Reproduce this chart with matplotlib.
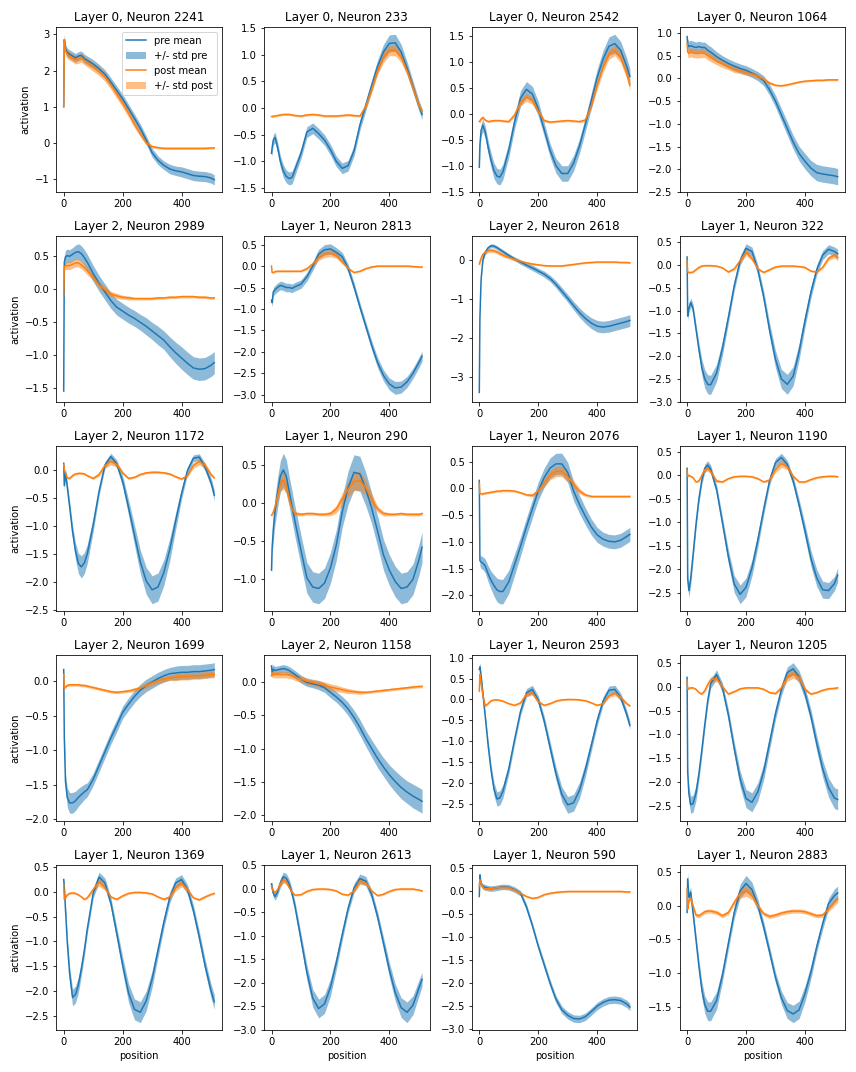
import matplotlib
matplotlib.use("Agg")
import matplotlib.pyplot as plt
import numpy as np

positions = [0, 2, 6, 12, 20, 30, 40, 50, 60, 70, 80, 100, 120, 140, 160, 180, 200,
             220, 240, 260, 280, 300, 320, 340, 360, 380, 400, 420, 440, 460, 480, 500, 511]

titles = ["Layer 0, Neuron 2241", "Layer 0, Neuron 233", "Layer 0, Neuron 2542", "Layer 0, Neuron 1064",
          "Layer 2, Neuron 2989", "Layer 1, Neuron 2813", "Layer 2, Neuron 2618", "Layer 1, Neuron 322",
          "Layer 2, Neuron 1172", "Layer 1, Neuron 290", "Layer 1, Neuron 2076", "Layer 1, Neuron 1190",
          "Layer 2, Neuron 1699", "Layer 2, Neuron 1158", "Layer 1, Neuron 2593", "Layer 1, Neuron 1205",
          "Layer 1, Neuron 1369", "Layer 1, Neuron 2613", "Layer 1, Neuron 590", "Layer 1, Neuron 2883"]

pre_mean = [
    [1.0, 2.85, 2.6, 2.5, 2.45, 2.4, 2.35, 2.4, 2.42, 2.33, 2.28, 2.18, 2.05, 1.9, 1.68, 1.45, 1.22, 0.95, 0.68, 0.4, 0.08, -0.27, -0.48, -0.62, -0.72, -0.77, -0.8, -0.85, -0.9, -0.92, -0.93, -0.97, -1.02],
    [-0.85, -0.75, -0.6, -0.55, -0.72, -1.0, -1.18, -1.28, -1.32, -1.3, -1.15, -0.85, -0.45, -0.38, -0.48, -0.6, -0.78, -1.0, -1.13, -1.08, -0.8, -0.32, 0.05, 0.42, 0.78, 1.05, 1.21, 1.22, 1.05, 0.75, 0.4, 0.05, -0.12],
    [-1.03, -0.6, -0.32, -0.22, -0.35, -0.65, -0.9, -1.1, -1.2, -1.22, -1.12, -0.7, -0.15, 0.3, 0.47, 0.38, 0.1, -0.3, -0.7, -1.0, -1.15, -1.15, -0.95, -0.62, -0.2, 0.25, 0.7, 1.05, 1.3, 1.35, 1.22, 0.92, 0.72],
    [0.92, 0.75, 0.7, 0.72, 0.7, 0.68, 0.7, 0.68, 0.68, 0.62, 0.58, 0.48, 0.4, 0.33, 0.27, 0.22, 0.18, 0.12, 0.05, -0.05, -0.25, -0.5, -0.8, -1.1, -1.4, -1.65, -1.82, -1.97, -2.07, -2.1, -2.12, -2.14, -2.16],
    [-1.55, 0.4, 0.48, 0.5, 0.49, 0.52, 0.55, 0.56, 0.53, 0.47, 0.4, 0.23, 0.08, -0.05, -0.18, -0.28, -0.34, -0.4, -0.45, -0.51, -0.57, -0.64, -0.71, -0.78, -0.88, -0.97, -1.05, -1.13, -1.2, -1.22, -1.21, -1.16, -1.12],
    [-0.8, -0.85, -0.6, -0.55, -0.5, -0.45, -0.47, -0.5, -0.5, -0.52, -0.48, -0.42, -0.25, 0.0, 0.28, 0.38, 0.4, 0.32, 0.22, -0.05, -0.48, -0.95, -1.4, -1.85, -2.25, -2.55, -2.75, -2.84, -2.82, -2.7, -2.5, -2.25, -2.1],
    [-3.4, -1.5, -0.5, 0.0, 0.2, 0.32, 0.37, 0.36, 0.32, 0.27, 0.22, 0.12, 0.03, -0.05, -0.13, -0.2, -0.28, -0.36, -0.47, -0.62, -0.8, -0.98, -1.17, -1.35, -1.5, -1.62, -1.7, -1.72, -1.7, -1.66, -1.62, -1.58, -1.55],
    [0.18, -1.12, -0.95, -0.82, -0.95, -1.4, -1.85, -2.25, -2.5, -2.62, -2.63, -2.37, -1.82, -1.15, -0.45, 0.1, 0.37, 0.3, -0.1, -0.7, -1.43, -2.07, -2.5, -2.62, -2.44, -1.9, -1.22, -0.6, -0.1, 0.22, 0.35, 0.3, 0.25],
    [0.12, -0.28, -0.05, -0.3, -0.65, -1.1, -1.45, -1.67, -1.73, -1.66, -1.5, -0.98, -0.38, 0.09, 0.24, 0.11, -0.2, -0.67, -1.16, -1.64, -1.98, -2.14, -2.09, -1.83, -1.42, -0.91, -0.42, -0.01, 0.21, 0.23, 0.05, -0.22, -0.45],
    [-0.88, -0.6, -0.35, -0.1, 0.12, 0.35, 0.43, 0.35, 0.15, -0.05, -0.25, -0.62, -0.98, -1.1, -1.12, -1.05, -0.85, -0.55, -0.12, 0.2, 0.4, 0.38, 0.18, -0.07, -0.37, -0.68, -0.88, -1.03, -1.12, -1.1, -1.0, -0.75, -0.58],
    [0.15, -1.35, -1.38, -1.4, -1.45, -1.6, -1.72, -1.82, -1.9, -1.93, -1.93, -1.75, -1.42, -1.08, -0.72, -0.38, -0.05, 0.2, 0.38, 0.46, 0.46, 0.3, -0.05, -0.3, -0.52, -0.72, -0.87, -0.95, -0.99, -1.0, -0.97, -0.9, -0.86],
    [0.15, -2.2, -2.45, -2.2, -1.7, -1.05, -0.5, -0.1, 0.15, 0.22, 0.13, -0.3, -1.01, -1.73, -2.31, -2.53, -2.38, -1.97, -1.38, -0.72, -0.11, 0.27, 0.38, 0.23, -0.12, -0.63, -1.18, -1.76, -2.18, -2.43, -2.45, -2.3, -2.12],
    [0.17, -0.8, -1.45, -1.68, -1.76, -1.76, -1.73, -1.68, -1.64, -1.6, -1.57, -1.42, -1.22, -1.02, -0.82, -0.64, -0.45, -0.33, -0.22, -0.13, -0.06, -0.01, 0.04, 0.08, 0.11, 0.12, 0.13, 0.13, 0.14, 0.14, 0.15, 0.16, 0.17],
    [0.25, 0.15, 0.2, 0.18, 0.19, 0.2, 0.21, 0.2, 0.18, 0.15, 0.12, 0.05, 0.0, -0.02, -0.04, -0.08, -0.15, -0.22, -0.3, -0.4, -0.53, -0.68, -0.85, -1.0, -1.15, -1.28, -1.4, -1.5, -1.59, -1.66, -1.72, -1.77, -1.8],
    [0.72, 0.78, 0.55, 0.15, -0.4, -1.1, -1.7, -2.15, -2.38, -2.35, -2.2, -1.66, -0.95, -0.28, 0.16, 0.24, -0.01, -0.51, -1.14, -1.77, -2.27, -2.52, -2.47, -2.17, -1.68, -1.1, -0.51, -0.04, 0.22, 0.24, 0.05, -0.35, -0.62],
    [0.2, -1.8, -2.25, -2.48, -2.46, -2.24, -1.83, -1.33, -0.79, -0.29, 0.07, 0.26, -0.02, -0.59, -1.3, -1.94, -2.35, -2.43, -2.21, -1.78, -1.17, -0.56, -0.06, 0.3, 0.38, 0.21, -0.13, -0.61, -1.19, -1.72, -2.12, -2.34, -2.37],
    [0.25, 0.1, -0.35, -1.0, -1.65, -2.13, -2.07, -1.87, -1.55, -1.18, -0.75, -0.03, 0.3, 0.18, -0.22, -0.84, -1.47, -2.04, -2.37, -2.43, -2.2, -1.76, -1.18, -0.61, -0.11, 0.18, 0.25, 0.05, -0.37, -0.91, -1.49, -2.0, -2.22],
    [0.1, 0.02, -0.1, -0.17, -0.08, 0.12, 0.25, 0.22, 0.1, -0.11, -0.39, -1.08, -1.78, -2.33, -2.55, -2.45, -2.1, -1.57, -0.98, -0.42, 0.01, 0.21, 0.16, -0.13, -0.6, -1.16, -1.73, -2.21, -2.53, -2.63, -2.48, -2.12, -1.93],
    [-0.12, 0.35, 0.15, 0.1, 0.08, 0.06, 0.05, 0.06, 0.07, 0.08, 0.09, 0.08, 0.03, -0.05, -0.35, -0.75, -1.2, -1.6, -2.0, -2.35, -2.58, -2.7, -2.77, -2.78, -2.73, -2.62, -2.5, -2.42, -2.37, -2.36, -2.38, -2.45, -2.52],
    [-0.1, 0.4, 0.12, 0.2, -0.1, -0.5, -0.9, -1.25, -1.47, -1.57, -1.57, -1.41, -1.03, -0.56, -0.1, 0.22, 0.33, 0.24, 0.01, -0.32, -0.69, -1.07, -1.37, -1.56, -1.61, -1.55, -1.31, -0.99, -0.61, -0.27, 0.03, 0.15, 0.19],
]

pre_std = [
    [0.05, 0.15, 0.13, 0.12, 0.12, 0.12, 0.12, 0.12, 0.12, 0.12, 0.12, 0.12, 0.12, 0.12, 0.12, 0.12, 0.12, 0.12, 0.12, 0.12, 0.12, 0.12, 0.12, 0.12, 0.13, 0.13, 0.14, 0.14, 0.14, 0.14, 0.14, 0.14, 0.14],
    [0.05, 0.1, 0.1, 0.1, 0.1, 0.11, 0.12, 0.12, 0.12, 0.12, 0.11, 0.1, 0.1, 0.1, 0.1, 0.1, 0.1, 0.1, 0.1, 0.1, 0.1, 0.1, 0.1, 0.11, 0.12, 0.14, 0.16, 0.16, 0.14, 0.12, 0.11, 0.1, 0.1],
    [0.05, 0.12, 0.12, 0.12, 0.12, 0.13, 0.14, 0.15, 0.15, 0.15, 0.15, 0.14, 0.14, 0.15, 0.15, 0.15, 0.14, 0.13, 0.13, 0.14, 0.15, 0.15, 0.15, 0.14, 0.14, 0.15, 0.16, 0.17, 0.18, 0.18, 0.17, 0.16, 0.15],
    [0.05, 0.12, 0.12, 0.12, 0.12, 0.12, 0.12, 0.12, 0.12, 0.12, 0.12, 0.11, 0.1, 0.1, 0.1, 0.1, 0.1, 0.1, 0.1, 0.11, 0.12, 0.13, 0.14, 0.15, 0.15, 0.16, 0.17, 0.17, 0.18, 0.18, 0.18, 0.18, 0.18],
    [0.05, 0.1, 0.1, 0.1, 0.1, 0.1, 0.11, 0.12, 0.12, 0.12, 0.12, 0.12, 0.12, 0.12, 0.12, 0.12, 0.12, 0.12, 0.12, 0.12, 0.13, 0.13, 0.14, 0.14, 0.15, 0.16, 0.17, 0.17, 0.17, 0.17, 0.17, 0.17, 0.17],
    [0.05, 0.1, 0.1, 0.1, 0.1, 0.1, 0.1, 0.1, 0.1, 0.1, 0.1, 0.1, 0.1, 0.1, 0.11, 0.12, 0.12, 0.11, 0.1, 0.1, 0.1, 0.1, 0.1, 0.11, 0.12, 0.13, 0.14, 0.15, 0.14, 0.13, 0.12, 0.12, 0.12],
    [0.05, 0.05, 0.05, 0.05, 0.05, 0.05, 0.05, 0.05, 0.05, 0.05, 0.05, 0.05, 0.05, 0.06, 0.06, 0.07, 0.07, 0.08, 0.08, 0.09, 0.1, 0.1, 0.11, 0.12, 0.13, 0.14, 0.15, 0.15, 0.15, 0.15, 0.15, 0.15, 0.15],
    [0.05, 0.1, 0.1, 0.1, 0.1, 0.12, 0.15, 0.18, 0.2, 0.21, 0.21, 0.19, 0.16, 0.13, 0.11, 0.1, 0.1, 0.1, 0.11, 0.13, 0.16, 0.19, 0.21, 0.22, 0.21, 0.18, 0.15, 0.13, 0.11, 0.1, 0.1, 0.1, 0.1],
    [0.05, 0.08, 0.08, 0.08, 0.1, 0.12, 0.15, 0.18, 0.2, 0.19, 0.17, 0.12, 0.08, 0.06, 0.06, 0.07, 0.1, 0.14, 0.18, 0.21, 0.24, 0.25, 0.25, 0.23, 0.2, 0.15, 0.1, 0.07, 0.06, 0.06, 0.07, 0.08, 0.1],
    [0.05, 0.1, 0.15, 0.18, 0.2, 0.2, 0.22, 0.22, 0.2, 0.2, 0.2, 0.2, 0.2, 0.2, 0.2, 0.2, 0.2, 0.2, 0.2, 0.22, 0.23, 0.23, 0.22, 0.2, 0.2, 0.2, 0.2, 0.2, 0.2, 0.2, 0.2, 0.2, 0.2],
    [0.05, 0.1, 0.12, 0.12, 0.13, 0.15, 0.17, 0.2, 0.22, 0.23, 0.23, 0.22, 0.2, 0.18, 0.17, 0.17, 0.17, 0.18, 0.19, 0.2, 0.2, 0.19, 0.18, 0.17, 0.16, 0.15, 0.14, 0.13, 0.13, 0.13, 0.13, 0.13, 0.13],
    [0.05, 0.15, 0.15, 0.15, 0.13, 0.11, 0.1, 0.09, 0.09, 0.09, 0.09, 0.1, 0.12, 0.15, 0.18, 0.2, 0.2, 0.17, 0.15, 0.12, 0.1, 0.09, 0.09, 0.09, 0.1, 0.12, 0.15, 0.17, 0.18, 0.18, 0.17, 0.15, 0.15],
    [0.05, 0.1, 0.12, 0.14, 0.15, 0.15, 0.14, 0.13, 0.12, 0.11, 0.1, 0.09, 0.09, 0.09, 0.09, 0.09, 0.09, 0.09, 0.09, 0.09, 0.09, 0.09, 0.09, 0.09, 0.09, 0.1, 0.1, 0.1, 0.1, 0.1, 0.1, 0.1, 0.1],
    [0.05, 0.08, 0.07, 0.06, 0.06, 0.06, 0.06, 0.06, 0.06, 0.06, 0.06, 0.06, 0.06, 0.06, 0.07, 0.07, 0.08, 0.08, 0.09, 0.1, 0.11, 0.12, 0.12, 0.13, 0.14, 0.14, 0.15, 0.16, 0.17, 0.17, 0.18, 0.18, 0.18],
    [0.1, 0.1, 0.1, 0.1, 0.1, 0.12, 0.14, 0.16, 0.17, 0.17, 0.16, 0.13, 0.11, 0.1, 0.1, 0.1, 0.1, 0.12, 0.14, 0.16, 0.18, 0.2, 0.2, 0.19, 0.17, 0.14, 0.12, 0.1, 0.1, 0.1, 0.1, 0.1, 0.1],
    [0.05, 0.15, 0.17, 0.18, 0.18, 0.16, 0.14, 0.12, 0.11, 0.1, 0.1, 0.1, 0.1, 0.12, 0.14, 0.17, 0.19, 0.2, 0.19, 0.17, 0.15, 0.13, 0.12, 0.12, 0.13, 0.13, 0.13, 0.14, 0.16, 0.18, 0.2, 0.22, 0.22],
    [0.05, 0.08, 0.1, 0.12, 0.15, 0.17, 0.17, 0.16, 0.14, 0.12, 0.1, 0.1, 0.1, 0.1, 0.11, 0.13, 0.16, 0.19, 0.21, 0.21, 0.2, 0.17, 0.14, 0.12, 0.11, 0.1, 0.1, 0.1, 0.11, 0.12, 0.13, 0.14, 0.15],
    [0.05, 0.08, 0.08, 0.08, 0.08, 0.1, 0.1, 0.1, 0.1, 0.1, 0.11, 0.13, 0.16, 0.19, 0.2, 0.2, 0.18, 0.15, 0.12, 0.1, 0.1, 0.1, 0.1, 0.1, 0.11, 0.13, 0.16, 0.18, 0.21, 0.22, 0.2, 0.17, 0.15],
    [0.05, 0.06, 0.06, 0.06, 0.06, 0.06, 0.06, 0.06, 0.06, 0.06, 0.06, 0.06, 0.06, 0.06, 0.07, 0.07, 0.07, 0.08, 0.08, 0.08, 0.08, 0.08, 0.08, 0.08, 0.08, 0.08, 0.08, 0.08, 0.08, 0.08, 0.08, 0.08, 0.08],
    [0.05, 0.1, 0.08, 0.08, 0.08, 0.08, 0.1, 0.12, 0.13, 0.14, 0.14, 0.13, 0.1, 0.09, 0.09, 0.1, 0.12, 0.11, 0.09, 0.08, 0.08, 0.08, 0.1, 0.12, 0.13, 0.13, 0.12, 0.1, 0.08, 0.08, 0.08, 0.1, 0.1],
]

post_mean = [
    [1.0, 2.85, 2.55, 2.45, 2.4, 2.35, 2.3, 2.32, 2.35, 2.28, 2.22, 2.1, 1.98, 1.82, 1.6, 1.35, 1.1, 0.82, 0.52, 0.25, 0.0, -0.1, -0.13, -0.15, -0.15, -0.15, -0.15, -0.15, -0.15, -0.15, -0.15, -0.14, -0.14],
    [-0.16, -0.16, -0.15, -0.15, -0.14, -0.13, -0.12, -0.12, -0.12, -0.13, -0.14, -0.15, -0.13, -0.12, -0.13, -0.15, -0.15, -0.15, -0.14, -0.13, -0.14, -0.15, 0.03, 0.35, 0.7, 0.95, 1.08, 1.08, 0.95, 0.7, 0.38, 0.05, -0.06],
    [-0.15, -0.14, -0.1, -0.07, -0.12, -0.15, -0.14, -0.13, -0.13, -0.13, -0.14, -0.15, -0.02, 0.22, 0.32, 0.25, 0.05, -0.13, -0.16, -0.15, -0.14, -0.13, -0.14, -0.15, -0.12, 0.15, 0.55, 0.9, 1.15, 1.22, 1.08, 0.78, 0.55],
    [0.78, 0.58, 0.55, 0.58, 0.56, 0.55, 0.55, 0.56, 0.55, 0.5, 0.46, 0.38, 0.32, 0.26, 0.2, 0.17, 0.13, 0.1, 0.05, -0.02, -0.1, -0.15, -0.16, -0.14, -0.11, -0.08, -0.06, -0.05, -0.04, -0.04, -0.03, -0.03, -0.03],
    [-0.1, 0.33, 0.35, 0.35, 0.35, 0.37, 0.39, 0.39, 0.36, 0.32, 0.27, 0.17, 0.06, -0.02, -0.08, -0.11, -0.13, -0.14, -0.15, -0.15, -0.15, -0.15, -0.14, -0.14, -0.13, -0.13, -0.12, -0.12, -0.12, -0.13, -0.13, -0.14, -0.14],
    [0.0, -0.15, -0.15, -0.13, -0.12, -0.12, -0.12, -0.12, -0.12, -0.12, -0.12, -0.12, -0.06, 0.05, 0.2, 0.28, 0.3, 0.25, 0.1, -0.05, -0.15, -0.12, -0.06, -0.02, 0.0, 0.0, 0.0, 0.0, 0.0, 0.0, -0.01, -0.02, -0.02],
    [-0.1, -0.05, 0.05, 0.15, 0.2, 0.24, 0.25, 0.24, 0.21, 0.17, 0.13, 0.07, 0.02, -0.03, -0.07, -0.1, -0.12, -0.14, -0.15, -0.15, -0.15, -0.13, -0.11, -0.09, -0.07, -0.06, -0.05, -0.05, -0.05, -0.05, -0.06, -0.06, -0.07],
    [0.1, -0.15, -0.16, -0.16, -0.15, -0.1, -0.05, -0.02, -0.01, -0.01, -0.01, -0.02, -0.06, -0.15, -0.08, 0.1, 0.28, 0.15, -0.08, -0.16, -0.1, -0.04, -0.02, -0.02, -0.02, -0.03, -0.05, -0.13, -0.15, -0.05, 0.15, 0.22, 0.16],
    [0.1, 0.0, -0.05, -0.14, -0.15, -0.1, -0.07, -0.06, -0.06, -0.07, -0.1, -0.15, -0.08, 0.08, 0.15, 0.1, -0.05, -0.15, -0.13, -0.08, -0.05, -0.04, -0.04, -0.05, -0.07, -0.12, -0.16, -0.1, 0.08, 0.15, 0.08, -0.08, -0.14],
    [-0.16, -0.15, -0.12, -0.05, 0.08, 0.25, 0.3, 0.22, 0.05, -0.08, -0.14, -0.15, -0.14, -0.14, -0.15, -0.15, -0.14, -0.08, 0.05, 0.18, 0.28, 0.29, 0.2, 0.05, -0.08, -0.14, -0.15, -0.15, -0.14, -0.15, -0.15, -0.15, -0.14],
    [0.1, -0.1, -0.1, -0.1, -0.09, -0.08, -0.07, -0.06, -0.05, -0.05, -0.04, -0.04, -0.05, -0.08, -0.12, -0.13, -0.05, 0.1, 0.25, 0.32, 0.32, 0.22, 0.08, -0.05, -0.12, -0.15, -0.15, -0.15, -0.15, -0.15, -0.15, -0.15, -0.15],
    [0.1, -0.02, 0.0, -0.02, -0.05, -0.14, -0.12, 0.0, 0.12, 0.15, 0.08, -0.12, -0.14, -0.07, -0.03, -0.02, -0.02, -0.03, -0.07, -0.14, -0.1, 0.12, 0.25, 0.18, -0.02, -0.14, -0.14, -0.09, -0.05, -0.03, -0.02, -0.02, -0.03],
    [0.1, -0.1, -0.08, -0.06, -0.05, -0.05, -0.05, -0.05, -0.06, -0.06, -0.07, -0.09, -0.11, -0.13, -0.15, -0.16, -0.15, -0.14, -0.12, -0.1, -0.06, -0.02, 0.01, 0.03, 0.05, 0.06, 0.07, 0.07, 0.08, 0.08, 0.09, 0.1, 0.1],
    [0.1, 0.15, 0.12, 0.12, 0.12, 0.12, 0.12, 0.12, 0.11, 0.1, 0.08, 0.05, 0.02, 0.0, -0.02, -0.04, -0.07, -0.09, -0.11, -0.13, -0.14, -0.15, -0.15, -0.14, -0.13, -0.12, -0.11, -0.1, -0.09, -0.08, -0.07, -0.06, -0.06],
    [0.2, 0.6, 0.4, 0.1, -0.15, -0.1, -0.03, -0.01, -0.01, -0.02, -0.04, -0.1, -0.14, -0.08, 0.12, 0.16, -0.05, -0.14, -0.1, -0.04, -0.01, 0.0, 0.0, -0.01, -0.03, -0.08, -0.14, -0.1, 0.08, 0.15, 0.05, -0.1, -0.15],
    [0.15, -0.05, -0.03, -0.02, -0.02, -0.05, -0.12, -0.15, -0.08, 0.05, 0.15, 0.18, 0.0, -0.15, -0.1, -0.04, -0.02, -0.02, -0.02, -0.05, -0.12, -0.14, -0.02, 0.2, 0.28, 0.2, -0.05, -0.15, -0.12, -0.07, -0.04, -0.03, -0.02],
    [0.15, -0.15, -0.12, -0.06, -0.03, -0.02, -0.03, -0.06, -0.1, -0.15, -0.12, 0.05, 0.2, 0.08, -0.1, -0.15, -0.08, -0.03, -0.01, -0.01, -0.02, -0.04, -0.1, -0.15, -0.1, 0.08, 0.18, 0.05, -0.12, -0.16, -0.1, -0.05, -0.03],
    [0.05, 0.0, -0.05, -0.08, -0.03, 0.1, 0.18, 0.14, 0.02, -0.08, -0.14, -0.13, -0.06, -0.02, -0.01, -0.01, -0.02, -0.05, -0.12, -0.14, -0.05, 0.16, 0.12, -0.05, -0.15, -0.12, -0.06, -0.02, -0.01, -0.01, -0.01, -0.03, -0.05],
    [0.1, 0.25, 0.15, 0.08, 0.05, 0.05, 0.05, 0.06, 0.07, 0.08, 0.08, 0.07, 0.02, -0.05, -0.12, -0.16, -0.14, -0.08, -0.05, -0.03, -0.02, -0.01, -0.01, -0.01, -0.01, -0.01, -0.01, -0.01, -0.01, -0.01, -0.01, -0.02, -0.02],
    [0.25, -0.05, 0.08, 0.12, 0.0, -0.14, -0.15, -0.12, -0.09, -0.08, -0.08, -0.1, -0.15, -0.1, 0.05, 0.18, 0.22, 0.15, 0.0, -0.12, -0.16, -0.14, -0.11, -0.09, -0.08, -0.08, -0.09, -0.12, -0.15, -0.14, -0.05, 0.05, 0.1],
]

post_std = [
    [0.05, 0.15, 0.13, 0.12, 0.12, 0.12, 0.12, 0.12, 0.12, 0.12, 0.12, 0.12, 0.12, 0.12, 0.12, 0.12, 0.12, 0.11, 0.1, 0.08, 0.06, 0.04, 0.03, 0.03, 0.03, 0.03, 0.03, 0.03, 0.03, 0.03, 0.03, 0.03, 0.03],
    [0.02, 0.02, 0.02, 0.02, 0.02, 0.02, 0.02, 0.02, 0.02, 0.02, 0.02, 0.02, 0.02, 0.02, 0.02, 0.02, 0.02, 0.02, 0.02, 0.02, 0.02, 0.02, 0.04, 0.06, 0.08, 0.1, 0.1, 0.1, 0.1, 0.09, 0.08, 0.06, 0.05],
    [0.03, 0.03, 0.03, 0.03, 0.02, 0.02, 0.02, 0.02, 0.02, 0.02, 0.02, 0.02, 0.04, 0.07, 0.08, 0.07, 0.05, 0.03, 0.02, 0.02, 0.02, 0.02, 0.02, 0.02, 0.03, 0.05, 0.08, 0.1, 0.1, 0.1, 0.1, 0.1, 0.1],
    [0.1, 0.1, 0.1, 0.1, 0.1, 0.1, 0.1, 0.1, 0.09, 0.09, 0.09, 0.08, 0.08, 0.07, 0.07, 0.06, 0.06, 0.05, 0.05, 0.04, 0.03, 0.02, 0.02, 0.02, 0.02, 0.02, 0.02, 0.02, 0.02, 0.02, 0.02, 0.02, 0.02],
    [0.02, 0.06, 0.06, 0.06, 0.06, 0.06, 0.06, 0.06, 0.06, 0.06, 0.06, 0.05, 0.05, 0.05, 0.04, 0.04, 0.03, 0.03, 0.02, 0.02, 0.02, 0.02, 0.02, 0.02, 0.02, 0.02, 0.02, 0.02, 0.02, 0.02, 0.02, 0.02, 0.02],
    [0.02, 0.02, 0.02, 0.02, 0.02, 0.02, 0.02, 0.02, 0.02, 0.02, 0.02, 0.02, 0.03, 0.05, 0.07, 0.08, 0.08, 0.07, 0.05, 0.03, 0.02, 0.02, 0.02, 0.02, 0.02, 0.02, 0.02, 0.02, 0.02, 0.02, 0.02, 0.02, 0.02],
    [0.05, 0.05, 0.05, 0.05, 0.05, 0.05, 0.05, 0.05, 0.05, 0.05, 0.05, 0.04, 0.04, 0.03, 0.03, 0.03, 0.02, 0.02, 0.02, 0.02, 0.02, 0.02, 0.02, 0.02, 0.02, 0.02, 0.02, 0.02, 0.02, 0.02, 0.02, 0.02, 0.02],
    [0.02, 0.02, 0.02, 0.02, 0.02, 0.02, 0.02, 0.02, 0.02, 0.02, 0.02, 0.02, 0.02, 0.02, 0.03, 0.05, 0.07, 0.05, 0.03, 0.02, 0.02, 0.02, 0.02, 0.02, 0.02, 0.02, 0.02, 0.02, 0.02, 0.03, 0.05, 0.06, 0.06],
    [0.02, 0.02, 0.02, 0.02, 0.02, 0.02, 0.02, 0.02, 0.02, 0.02, 0.02, 0.02, 0.03, 0.05, 0.06, 0.05, 0.03, 0.02, 0.02, 0.02, 0.02, 0.02, 0.02, 0.02, 0.02, 0.02, 0.02, 0.03, 0.05, 0.06, 0.05, 0.03, 0.02],
    [0.02, 0.02, 0.03, 0.05, 0.08, 0.1, 0.12, 0.1, 0.07, 0.04, 0.03, 0.02, 0.02, 0.02, 0.02, 0.02, 0.03, 0.05, 0.08, 0.1, 0.12, 0.12, 0.1, 0.07, 0.04, 0.03, 0.02, 0.02, 0.02, 0.02, 0.02, 0.02, 0.02],
    [0.02, 0.02, 0.02, 0.02, 0.02, 0.02, 0.02, 0.02, 0.02, 0.02, 0.02, 0.02, 0.02, 0.02, 0.02, 0.03, 0.05, 0.07, 0.09, 0.1, 0.1, 0.09, 0.07, 0.05, 0.03, 0.02, 0.02, 0.02, 0.02, 0.02, 0.02, 0.02, 0.02],
    [0.02, 0.02, 0.02, 0.02, 0.02, 0.02, 0.02, 0.03, 0.05, 0.06, 0.05, 0.03, 0.02, 0.02, 0.02, 0.02, 0.02, 0.02, 0.02, 0.02, 0.03, 0.06, 0.08, 0.06, 0.03, 0.02, 0.02, 0.02, 0.02, 0.02, 0.02, 0.02, 0.02],
    [0.02, 0.02, 0.02, 0.02, 0.02, 0.02, 0.02, 0.02, 0.02, 0.02, 0.02, 0.02, 0.02, 0.02, 0.02, 0.02, 0.02, 0.02, 0.03, 0.03, 0.04, 0.04, 0.04, 0.04, 0.04, 0.05, 0.05, 0.05, 0.05, 0.05, 0.05, 0.05, 0.05],
    [0.03, 0.05, 0.05, 0.05, 0.05, 0.05, 0.05, 0.05, 0.05, 0.05, 0.05, 0.05, 0.05, 0.05, 0.05, 0.05, 0.05, 0.05, 0.04, 0.04, 0.03, 0.03, 0.02, 0.02, 0.02, 0.02, 0.02, 0.02, 0.02, 0.02, 0.02, 0.02, 0.02],
    [0.1, 0.15, 0.12, 0.06, 0.03, 0.02, 0.02, 0.02, 0.02, 0.02, 0.02, 0.02, 0.02, 0.03, 0.05, 0.06, 0.04, 0.02, 0.02, 0.02, 0.02, 0.02, 0.02, 0.02, 0.02, 0.02, 0.02, 0.02, 0.04, 0.06, 0.05, 0.03, 0.02],
    [0.02, 0.02, 0.02, 0.02, 0.02, 0.02, 0.02, 0.02, 0.03, 0.05, 0.07, 0.07, 0.04, 0.02, 0.02, 0.02, 0.02, 0.02, 0.02, 0.02, 0.02, 0.02, 0.04, 0.08, 0.1, 0.08, 0.04, 0.02, 0.02, 0.02, 0.02, 0.02, 0.02],
    [0.02, 0.02, 0.02, 0.02, 0.02, 0.02, 0.02, 0.02, 0.02, 0.02, 0.02, 0.05, 0.08, 0.05, 0.02, 0.02, 0.02, 0.02, 0.02, 0.02, 0.02, 0.02, 0.02, 0.02, 0.03, 0.06, 0.08, 0.05, 0.02, 0.02, 0.02, 0.02, 0.02],
    [0.02, 0.02, 0.02, 0.02, 0.03, 0.05, 0.07, 0.05, 0.03, 0.02, 0.02, 0.02, 0.02, 0.02, 0.02, 0.02, 0.02, 0.02, 0.02, 0.02, 0.03, 0.07, 0.05, 0.02, 0.02, 0.02, 0.02, 0.02, 0.02, 0.02, 0.02, 0.02, 0.02],
    [0.05, 0.05, 0.05, 0.04, 0.04, 0.03, 0.03, 0.03, 0.03, 0.03, 0.03, 0.03, 0.03, 0.03, 0.02, 0.02, 0.02, 0.02, 0.02, 0.02, 0.02, 0.02, 0.02, 0.02, 0.02, 0.02, 0.02, 0.02, 0.02, 0.02, 0.02, 0.02, 0.02],
    [0.03, 0.03, 0.03, 0.03, 0.03, 0.03, 0.03, 0.03, 0.03, 0.03, 0.03, 0.03, 0.03, 0.03, 0.04, 0.07, 0.08, 0.06, 0.03, 0.03, 0.03, 0.03, 0.03, 0.03, 0.03, 0.03, 0.03, 0.03, 0.03, 0.03, 0.04, 0.05, 0.05],
]

x = np.array(positions)
fig, axes = plt.subplots(5, 4, figsize=(856 / 72, 1072 / 72), dpi=72)
for i, ax in enumerate(axes.flat):
    pm = np.array(pre_mean[i]); ps = np.array(pre_std[i])
    qm = np.array(post_mean[i]); qs = np.array(post_std[i])
    ax.plot(x, pm, color="C0", label="pre mean")
    ax.fill_between(x, pm - ps, pm + ps, color="C0", alpha=0.5, linewidth=0, label="+/- std pre")
    ax.plot(x, qm, color="C1", label="post mean")
    ax.fill_between(x, qm - qs, qm + qs, color="C1", alpha=0.5, linewidth=0, label="+/- std post")
    ax.set_title(titles[i])
    ax.set_xticks([0, 200, 400])
    if i % 4 == 0:
        ax.set_ylabel("activation")
    if i >= 16:
        ax.set_xlabel("position")
    if i == 0:
        ax.legend(loc="upper right")
fig.tight_layout()
fig.savefig("out.png", dpi=72)
